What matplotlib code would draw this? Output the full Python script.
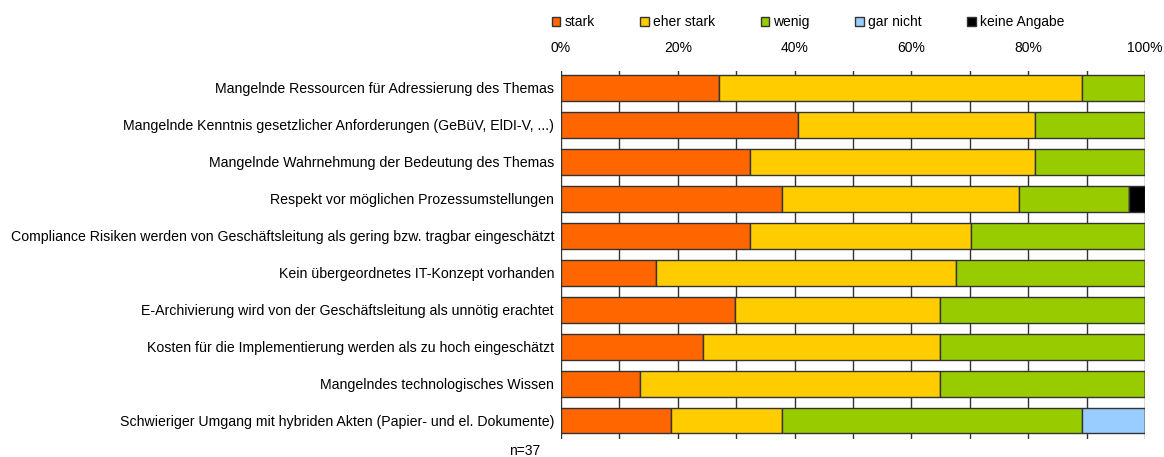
import matplotlib
matplotlib.use("Agg")
import matplotlib.pyplot as plt
import numpy as np
from matplotlib.patches import Patch

plt.rcParams['font.family'] = ['Liberation Sans', 'DejaVu Sans']

categories = [
    "Mangelnde Ressourcen für Adressierung des Themas",
    "Mangelnde Kenntnis gesetzlicher Anforderungen (GeBüV, ElDI-V, ...)",
    "Mangelnde Wahrnehmung der Bedeutung des Themas",
    "Respekt vor möglichen Prozessumstellungen",
    "Compliance Risiken werden von Geschäftsleitung als gering bzw. tragbar eingeschätzt",
    "Kein übergeordnetes IT-Konzept vorhanden",
    "E-Archivierung wird von der Geschäftsleitung als unnötig erachtet",
    "Kosten für die Implementierung werden als zu hoch eingeschätzt",
    "Mangelndes technologisches Wissen",
    "Schwieriger Umgang mit hybriden Akten (Papier- und el. Dokumente)",
]
n_total = 37
stark       = [10, 15, 12, 14, 12, 6, 11, 9, 5, 7]
eher_stark  = [23, 15, 18, 15, 14, 19, 13, 15, 19, 7]
wenig       = [4, 7, 7, 7, 11, 12, 13, 13, 13, 19]
gar_nicht   = [0, 0, 0, 0, 0, 0, 0, 0, 0, 4]
keine_angabe = [0, 0, 0, 1, 0, 0, 0, 0, 0, 0]

series_names = ["stark", "eher stark", "wenig", "gar nicht", "keine Angabe"]
series_vals = [stark, eher_stark, wenig, gar_nicht, keine_angabe]
colors = ["#FF6600", "#FFCC00", "#99CC00", "#99CCFF", "#000000"]
xtick_vals = [0, 20, 40, 60, 80, 100]

fig = plt.figure(figsize=(11.64, 4.57), dpi=100)
ax = fig.add_axes([561/1164, 1-439/457, (1145-561)/1164, (439-71)/457])

y = np.arange(len(categories))
left = np.zeros(len(categories))
for name, vals, c in zip(series_names, series_vals, colors):
    pct = np.array(vals) / n_total * 100
    ax.barh(y, pct, left=left, height=0.70, color=c, edgecolor="#333333",
            linewidth=1.0, zorder=3, label=name)
    left += pct

ax.set_xlim(0, 100)
ax.set_ylim(9.5, -0.46)
ax.set_yticks(y)
ax.set_yticklabels(categories, fontsize=10.15)
ax.xaxis.tick_top()
ax.set_xticks(np.arange(0, 101, 10))
ax.set_xticklabels([f"{v}%" if v in xtick_vals else "" for v in range(0, 101, 10)], fontsize=10)
ax.tick_params(axis='x', length=0, pad=11.5)
ax.tick_params(axis='y', length=0, pad=5)
ax.grid(axis='x', color="#333333", linewidth=1.0, zorder=0)
for s in ax.spines.values():
    s.set_visible(False)

handles = [Patch(facecolor=c, edgecolor="#333333", linewidth=1.0) for c in colors]
fig.legend(handles, series_names, loc="center", bbox_to_anchor=(808/1164, 1-22/457),
           ncol=5, frameon=False, fontsize=10, handlelength=0.6, handleheight=0.6,
           handletextpad=0.3, columnspacing=3.3, borderaxespad=0)

fig.text(525/1164, 1-451/457, f"n={n_total}", fontsize=10, ha="center", va="center")

fig.savefig("out.png", dpi=100)
